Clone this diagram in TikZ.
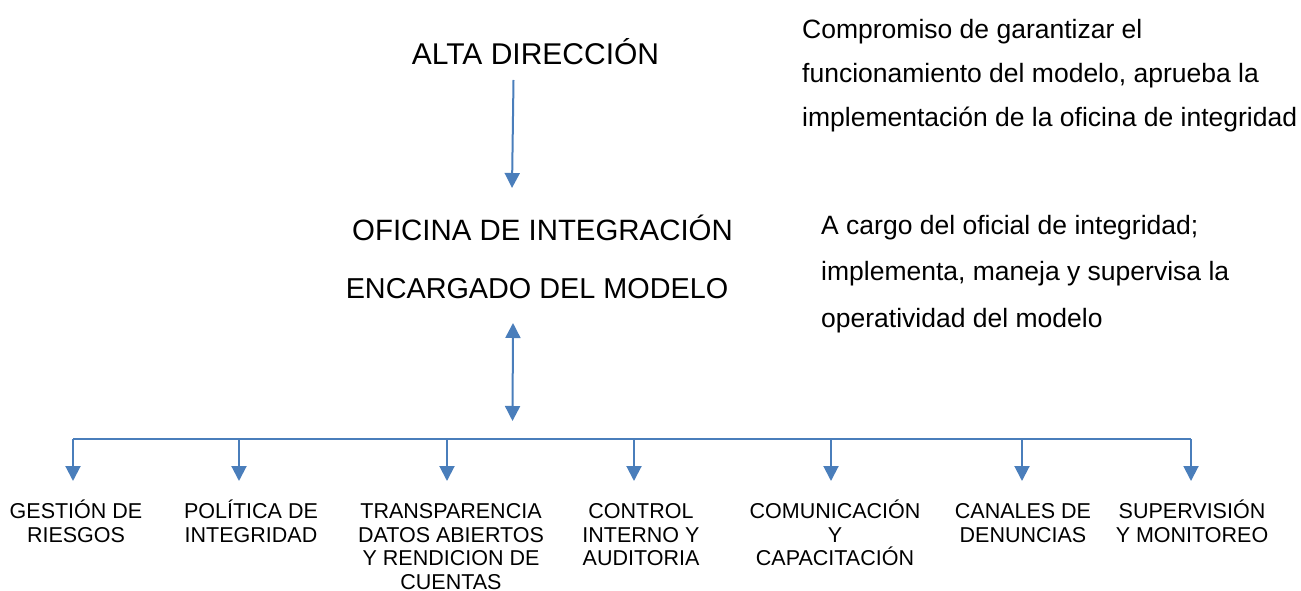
\documentclass[tikz,border=0pt]{standalone}
\usepackage{fontspec}
\setmainfont{Liberation Sans}
\usetikzlibrary{arrows.meta}
\definecolor{arrowblue}{RGB}{74,126,187}
\newcommand{\leafstrut}{\rule{0pt}{21pt}}
\newcommand{\notestrut}{\rule{0pt}{27pt}}
\begin{document}
\begin{tikzpicture}[x=1pt,y=-1pt,
  title/.style={inner sep=0pt,anchor=base},
  note/.style={inner sep=0pt,anchor=north west,align=left},
  leaf/.style={inner sep=0pt,anchor=north,align=center,font=\fontsize{21.5}{23.8}\selectfont},
  conn/.style={draw=arrowblue,line width=2pt},
  arr/.style={conn,-{Triangle[length=15pt,width=15pt]}},
  darr/.style={conn,{Triangle[length=15pt,width=15pt]}-{Triangle[length=15pt,width=15pt]}}]
\useasboundingbox (0,0) rectangle (1301,591);
% titles
\node[title,font=\fontsize{30}{36}\selectfont] (alta) at (535.5,65) {ALTA DIRECCIÓN};
\node[title,font=\fontsize{29.4}{36}\selectfont] (ofi) at (542.5,240) {OFICINA DE INTEGRACIÓN};
\node[title,font=\fontsize{28.8}{36}\selectfont] (enc) at (537,298) {ENCARGADO DEL MODELO};
% notes
\node[note,font=\fontsize{26.5}{44}\selectfont] (n1) at (802,11) {\notestrut Compromiso de garantizar el\\funcionamiento del modelo, aprueba la\\implementación de la oficina de integridad};
\node[note,font=\fontsize{26.5}{46.5}\selectfont] (n2) at (821,207) {\notestrut A cargo del oficial de integridad;\\implementa, maneja y supervisa la\\operatividad del modelo};
% leaves
\node[leaf] (l1) at (76,497) {\leafstrut GESTIÓN DE\\RIESGOS};
\node[leaf] (l2) at (251,497) {\leafstrut POLÍTICA DE\\INTEGRIDAD};
\node[leaf] (l3) at (451,497) {\leafstrut TRANSPARENCIA\\DATOS ABIERTOS\\Y RENDICION DE\\CUENTAS};
\node[leaf] (l4) at (641,497) {\leafstrut CONTROL\\INTERNO Y\\AUDITORIA};
\node[leaf] (l5) at (835,497) {\leafstrut COMUNICACIÓN\\Y\\CAPACITACIÓN};
\node[leaf] (l6) at (1023,497) {\leafstrut CANALES DE\\DENUNCIAS};
\node[leaf] (l7) at (1192,497) {\leafstrut SUPERVISIÓN\\Y MONITOREO};
% connector coordinates
\coordinate (t1) at (513.5,80);
\coordinate (t2) at (512,188);
\coordinate (d1) at (513,323);
\coordinate (d2) at (512.5,421);
\coordinate (busL) at (73,439);
\coordinate (busR) at (1191,439);
\draw[arr] (t1) -- (t2);
\draw[darr] (d1) -- (d2);
\draw[conn] (busL) -- (busR);
\foreach \x/\n in {73/1,239/2,447/3,634/4,831/5,1022/6,1191/7}{
  \coordinate (s\n) at (\x,439);
  \coordinate (e\n) at (\x,481);
  \draw[arr] (s\n) -- (e\n);
}
\end{tikzpicture}
\end{document}
